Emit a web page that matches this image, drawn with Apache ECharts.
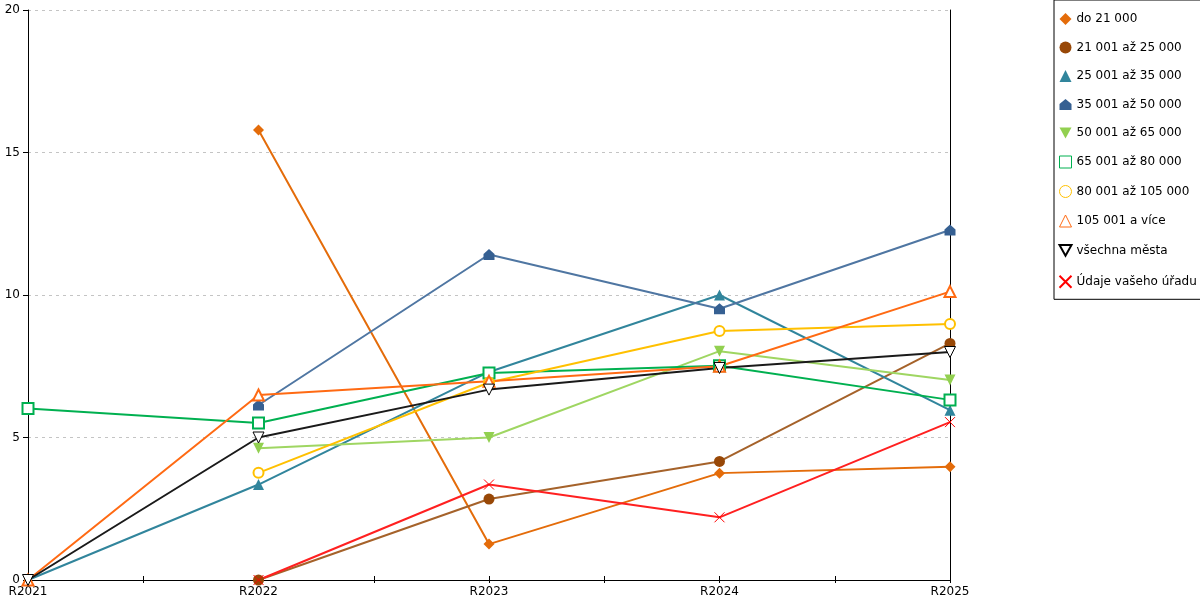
<!DOCTYPE html>
<html>
<head>
<meta charset="utf-8">
<script src="https://cdn.jsdelivr.net/npm/echarts@6/dist/echarts.min.js"></script>
<style>
  html, body { margin: 0; padding: 0; background: #fff; }
  #chart { width: 1200px; height: 600px; }
</style>
</head>
<body>
<div id="chart"></div>
<script>
// kategorie na ose x
const years = ['R2021', 'R2022', 'R2023', 'R2024', 'R2025']
const yTicks = [0, 5, 10, 15, 20]

// hodnoty jednotlivych rad
const do21000 = [null, 15.79, 1.26, 3.75, 3.97]
const r21_25 = [null, 0, 2.84, 4.16, 8.3]
const r25_35 = [0, 3.35, 7.3, 10.0, 5.96]
const r35_50 = [null, 6.14, 11.42, 9.52, 12.28]
const r50_65 = [null, 4.62, 5.0, 8.03, 7.02]
const r65_80 = [6.02, 5.51, 7.26, 7.52, 6.32]
const r80_105 = [null, 3.76, 6.93, 8.74, 8.98]
const r105 = [0, 6.49, 6.97, 7.5, 10.12]
const vsechna = [0, 5.0, 6.68, 7.44, 8.0]
const urad = [null, 0, 3.35, 2.2, 5.54]

const house = 'path://M0,4 L5,0 L10,4 L10,9 L0,9 Z'
const nabla = 'path://M0,0 L10,0 L5,9 Z'
const cross = 'path://M0,0 L10,10 M10,0 L0,10'
const square = 'path://M0,0 L10,0 L10,10 L0,10 Z'

const chart = echarts.init(document.getElementById('chart'))

// jedna rada grafu
const line = (name, data, color, symbol, extra) => Object.assign({
  name,
  type: 'line',
  data,
  color,
  symbol,
  symbolSize: 10,
  showAllSymbol: true,
  connectNulls: false,
  lineStyle: { width: 2, color },
  itemStyle: { color },
  emphasis: { disabled: true },
  animation: false
}, extra || {})

// prazdna ikona v legende
const hollow = (name, icon, color) => ({
  name, icon, itemStyle: { color: '#fff', borderColor: color, borderWidth: 1 }
})

const midTicks = ['', '', '', '', '', '', '', '', '']
const font = 'DejaVu Sans'

chart.setOption({
  animation: false,
  textStyle: { fontFamily: font },
  grid: { left: 28, right: 250, top: 10, bottom: 20, containLabel: false },
  legend: {
    orient: 'vertical',
    left: 1054,
    top: 0,
    padding: [13, 40, 9, 3],
    itemWidth: 12,
    itemHeight: 12,
    itemGap: 16.5,
    borderColor: '#000',
    borderWidth: 1,
    textStyle: { fontFamily: font, fontSize: 12, color: '#000' },
    data: [
      { name: 'do 21 000', icon: 'diamond' },
      { name: '21 001 až 25 000', icon: 'circle' },
      { name: '25 001 až 35 000', icon: 'triangle' },
      { name: '35 001 až 50 000', icon: house },
      { name: '50 001 až 65 000', icon: nabla },
      hollow('65 001 až 80 000', square, '#00b050'),
      hollow('80 001 až 105 000', 'circle', '#ffc000'),
      hollow('105 001 a více', 'triangle', '#ff6a13'),
      { name: 'všechna města', icon: nabla },
      { name: 'Údaje vašeho úřadu', icon: cross }
    ]
  },
  xAxis: [
    {
      type: 'category',
      data: years,
      boundaryGap: false,
      axisLine: { lineStyle: { color: '#000', width: 1 } },
      axisTick: { show: false },
      axisLabel: { color: '#000', fontSize: 12, margin: 6 },
      splitLine: { show: false }
    },
    {
      type: 'category',
      data: midTicks,
      boundaryGap: false,
      position: 'bottom',
      axisLine: { show: false },
      axisTick: { inside: true, length: 4, lineStyle: { color: '#000' } },
      axisLabel: { show: false }
    },
    {
      type: 'category',
      data: midTicks,
      boundaryGap: false,
      position: 'bottom',
      axisLine: { show: false },
      axisTick: { inside: false, length: 3, lineStyle: { color: '#000' } },
      axisLabel: { show: false }
    }
  ],
  yAxis: [
    {
      type: 'value',
      min: yTicks[0],
      max: yTicks[yTicks.length - 1],
      interval: 5,
      axisLine: { show: true, lineStyle: { color: '#000' } },
      axisTick: { show: true, length: 5, lineStyle: { color: '#000' } },
      axisLabel: { color: '#000', fontSize: 12, margin: 8 },
      splitLine: { show: true, lineStyle: { color: '#c4c4c4', type: [3, 4] } }
    },
    {
      type: 'value',
      position: 'right',
      min: yTicks[0],
      max: yTicks[yTicks.length - 1],
      interval: 5,
      axisLine: { show: true, lineStyle: { color: '#000' } },
      axisTick: { show: false },
      axisLabel: { show: false },
      splitLine: { show: false }
    }
  ],
  series: [
    line('do 21 000', do21000, '#e46c0a', 'diamond', { symbolSize: 11 }),
    line('21 001 až 25 000', r21_25, '#984807', 'circle', { symbolSize: 11, lineStyle: { width: 2, color: '#a5622a' } }),
    line('25 001 až 35 000', r25_35, '#31859c', 'triangle', { symbolSize: 11 }),
    line('35 001 až 50 000', r35_50, '#366092', house, { symbolSize: 11, lineStyle: { width: 2, color: '#4f76a2' } }),
    line('50 001 až 65 000', r50_65, '#92d050', nabla, { symbolSize: 11, lineStyle: { width: 2, color: '#9fd662' } }),
    line('65 001 až 80 000', r65_80, '#00b050', 'emptyRect', { symbolSize: 11 }),
    line('80 001 až 105 000', r80_105, '#ffc000', 'emptyCircle'),
    line('105 001 a více', r105, '#ff6a13', 'emptyTriangle', { symbolSize: 11 }),
    line('všechna města', vsechna, '#000', nabla, {
      symbolSize: 11,
      itemStyle: { color: '#fff', borderColor: '#000', borderWidth: 1 },
      lineStyle: { width: 2, color: '#1a1a1a' }
    }),
    line('Údaje vašeho úřadu', urad, '#ff0000', cross, {
      itemStyle: { color: 'none', borderColor: '#ff0000', borderWidth: 1 },
      lineStyle: { width: 2, color: '#ff2020' }
    })
  ]
})

window.addEventListener('resize', () => {
  chart.resize()
})
</script>
</body>
</html>
